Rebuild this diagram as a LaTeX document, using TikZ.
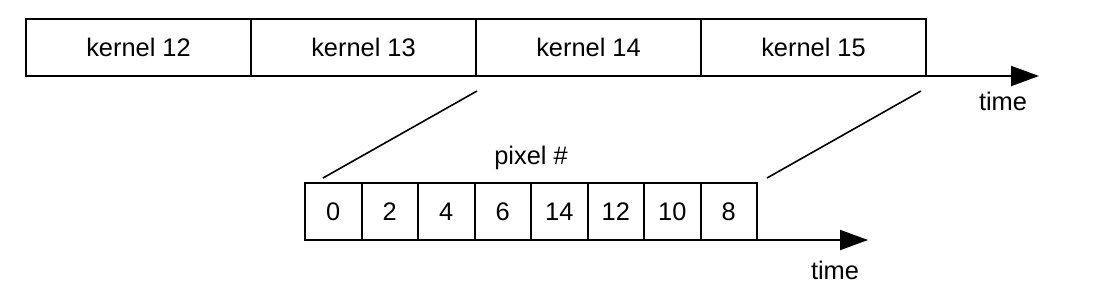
\documentclass[tikz,border=0pt]{standalone}
\usepackage{fontspec}
\setmainfont{Liberation Sans}
\usetikzlibrary{arrows.meta,positioning,calc}

\begin{document}
\begin{tikzpicture}[
  x=0.5pt,y=-0.5pt,
  node distance=0pt,
  every node/.style={font=\fontsize{12.7}{15}\selectfont},
  kernel/.style={draw,line width=1pt,minimum width=112.5pt,minimum height=28.5pt,inner sep=0pt,outer sep=0pt},
  pix/.style={draw,line width=1pt,minimum width=28.25pt,minimum height=28.5pt,inner sep=0pt,outer sep=0pt},
  arr/.style={-{Triangle[length=14pt,width=10pt]},line width=1pt},
  zoomline/.style={line width=0.8pt}
]
\useasboundingbox (0,0) rectangle (1098,290);
% kernels along time
\node[kernel,anchor=north west] (k12) at (26,19) {kernel 12};
\node[kernel,right=of k12] (k13) {kernel 13};
\node[kernel,right=of k13] (k14) {kernel 14};
\node[kernel,right=of k14] (k15) {kernel 15};
\coordinate (topend) at ($(k15.south east)+(113,0)$);
\draw[arr] (k15.south east) -- (topend);
\node (toptime) at (1003,101) {time};
% pixels inside one kernel
\node[pix,anchor=north west] (p0) at (305,183) {0};
\node[pix,right=of p0] (p2) {2};
\node[pix,right=of p2] (p4) {4};
\node[pix,right=of p4] (p6) {6};
\node[pix,right=of p6] (p14) {14};
\node[pix,right=of p14] (p12) {12};
\node[pix,right=of p12] (p10) {10};
\node[pix,right=of p10] (p8) {8};
\node[above=3pt of p14.north west] (pixlabel) {pixel \#};
\coordinate (botend) at ($(p8.south east)+(111,0)$);
\draw[arr] (p8.south east) -- (botend);
\node (bottime) at (835,270) {time};
% zoom lines
\draw[zoomline] ($(k14.south west)+(1,15)$) -- ($(p0.north west)+(18,-5)$);
\draw[zoomline] ($(k15.south east)+(-5,15)$) -- ($(p8.north east)+(10,-5)$);
\end{tikzpicture}
\end{document}
